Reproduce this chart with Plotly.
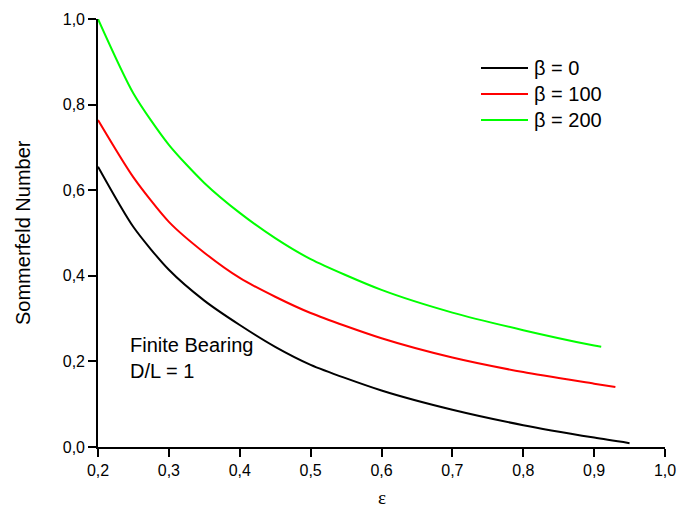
import plotly.graph_objects as go

eps_b0 = [0.2, 0.25, 0.3, 0.35, 0.4, 0.45, 0.5, 0.6, 0.7, 0.8, 0.9, 0.95]
som_b0 = [0.655, 0.514, 0.414, 0.342, 0.285, 0.234, 0.192, 0.132, 0.087, 0.051, 0.022, 0.009]

eps_b100 = [0.2, 0.25, 0.3, 0.35, 0.4, 0.45, 0.5, 0.6, 0.7, 0.8, 0.9, 0.93]
som_b100 = [0.764, 0.630, 0.526, 0.454, 0.395, 0.351, 0.313, 0.254, 0.209, 0.175, 0.148, 0.140]

eps_b200 = [0.2, 0.25, 0.3, 0.35, 0.4, 0.45, 0.5, 0.6, 0.7, 0.8, 0.9, 0.91]
som_b200 = [1.0, 0.826, 0.706, 0.617, 0.547, 0.488, 0.439, 0.367, 0.314, 0.273, 0.237, 0.234]

names = ["β = 0", "β = 100", "β = 200"]
colors = ["#000000", "#ff0000", "#00ff00"]

FONT = "Liberation Sans, Arial, sans-serif"

# plot area in pixels: x 98..665, y 19..447
L, R, T, B = 98, 665, 19, 447
W, H = 677, 511
def px_x(p):
    return (p - L) / (R - L)
def px_y(p):
    return (B - p) / (B - T)

fig = go.Figure()
for xs, ys, n, c in zip([eps_b0, eps_b100, eps_b200], [som_b0, som_b100, som_b200], names, colors):
    fig.add_trace(go.Scatter(x=xs, y=ys, mode="lines", name=n, showlegend=False,
                             line=dict(color=c, width=2, shape="spline", smoothing=0.7)))

fig.update_layout(
    width=W, height=H,
    margin=dict(l=L, r=W - R, t=T, b=H - B, autoexpand=False),
    paper_bgcolor="white", plot_bgcolor="white",
    separators=",.",
    font=dict(family=FONT, color="black", size=16),
    showlegend=False,
    xaxis=dict(range=[0.2, 1.0], tickvals=[0.2, 0.3, 0.4, 0.5, 0.6, 0.7, 0.8, 0.9, 1.0],
               tickformat=".1f", showgrid=False, zeroline=False, automargin=False,
               showline=True, linecolor="black", linewidth=1.6,
               ticks="outside", ticklen=8, tickwidth=1.6, tickcolor="black",
               tickfont=dict(size=16)),
    yaxis=dict(range=[0.0, 1.0], tickvals=[0.0, 0.2, 0.4, 0.6, 0.8, 1.0],
               tickformat=".1f", showgrid=False, zeroline=False, automargin=False,
               showline=True, linecolor="black", linewidth=1.6,
               ticks="outside", ticklen=8, tickwidth=1.6, tickcolor="black",
               tickfont=dict(size=16)),
)

# axis titles
fig.add_annotation(x=px_x(23), y=0.5, xref="paper", yref="paper", text="Sommerfeld Number",
                   textangle=-90, showarrow=False, xanchor="center", yanchor="middle",
                   font=dict(size=20, family=FONT, color="black"))
fig.add_annotation(x=0.5, y=px_y(497), xref="paper", yref="paper", text="ε",
                   showarrow=False, xanchor="center", yanchor="middle",
                   font=dict(size=19, family="Liberation Serif, Times New Roman, serif", color="black"))

# manual legend
leg_y = [68, 94, 120]
for n, c, yy in zip(names, colors, leg_y):
    fig.add_shape(type="line", xref="paper", yref="paper",
                  x0=px_x(481), x1=px_x(528), y0=px_y(yy), y1=px_y(yy),
                  line=dict(color=c, width=2))
    fig.add_annotation(x=px_x(532), y=px_y(yy), xref="paper", yref="paper", text=n,
                       showarrow=False, xanchor="left", yanchor="middle",
                       font=dict(size=20, family=FONT, color="black"))

fig.add_annotation(x=0.243, y=0.208, xref="x", yref="y", text="Finite Bearing<br>D/L = 1",
                   showarrow=False, xanchor="left", yanchor="middle", align="left",
                   font=dict(size=20, family=FONT, color="black"))

fig.write_html("out.html")
